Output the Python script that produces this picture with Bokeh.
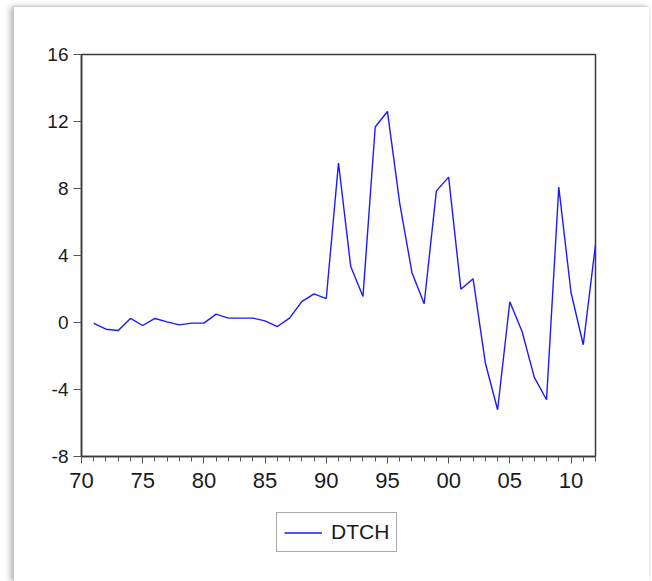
from bokeh.plotting import figure
from bokeh.layouts import column
from bokeh.models import FixedTicker, Legend, LegendItem, Range1d
from bokeh.embed import file_html
from bokeh.resources import INLINE

# ---- data ----
years = list(range(1971, 2013))
dtch = [-0.05, -0.40, -0.48, 0.24, -0.18, 0.24, 0.04, -0.14, -0.04, -0.04,
        0.50, 0.26, 0.26, 0.26, 0.10, -0.24, 0.26, 1.25, 1.71, 1.43,
        9.52, 3.34, 1.55, 11.67, 12.60, 7.13, 2.99, 1.12, 7.86, 8.68,
        1.99, 2.61, -2.42, -5.21, 1.24, -0.54, -3.28, -4.61, 8.08, 1.79,
        -1.33, 4.64]
series_name = "DTCH"
x_major = [1970, 1975, 1980, 1985, 1990, 1995, 2000, 2005, 2010]
x_labels = ["70", "75", "80", "85", "90", "95", "00", "05", "10"]
y_major = [-8, -4, 0, 4, 8, 12, 16]
y_labels = ["-8", "-4", "0", "4", "8", "12", "16"]

FONT = "Liberation Sans"
FRAME = "#3a3a3a"
LINE_COLOR = "#1a1aff"

p = figure(frame_width=514, frame_height=402, output_backend="svg",
           toolbar_location=None,
           x_range=Range1d(1970, 2012), y_range=Range1d(-8, 16),
           min_border_left=67, min_border_right=54, min_border_top=47,
           min_border_bottom=45)
p.background_fill_color = "white"
p.border_fill_color = "white"
p.outline_line_color = FRAME
p.outline_line_width = 1.5
p.xgrid.visible = False
p.ygrid.visible = False

p.line(years, dtch, line_color=LINE_COLOR, line_width=1.4)

# x axis
xa = p.xaxis[0]
xa.ticker = FixedTicker(ticks=x_major, minor_ticks=list(range(1970, 2013)))
xa.major_label_overrides = {t: l for t, l in zip(x_major, x_labels)}
xa.major_label_text_font = FONT
xa.major_label_text_font_size = "22px"
xa.major_label_text_color = "#1a1a1a"
xa.major_tick_in = 0
xa.major_tick_out = 7
xa.minor_tick_in = 0
xa.minor_tick_out = 5
xa.axis_line_color = FRAME
xa.axis_line_width = 1.5
xa.major_tick_line_color = "#555555"
xa.minor_tick_line_color = "#555555"
xa.major_label_standoff = 9

# y axis
ya = p.yaxis[0]
ya.ticker = FixedTicker(ticks=y_major)
ya.major_label_overrides = {t: l for t, l in zip(y_major, y_labels)}
ya.major_label_text_font = FONT
ya.major_label_text_font_size = "19px"
ya.major_label_text_color = "#1a1a1a"
ya.major_tick_in = 0
ya.major_tick_out = 8
ya.minor_tick_line_color = None
ya.axis_line_color = FRAME
ya.axis_line_width = 1.5
ya.major_tick_line_color = "#555555"
ya.major_label_standoff = 5

# legend strip below the chart (series drawn out of view, only its legend shows)
q = figure(width=635, height=80, output_backend="svg", toolbar_location=None,
           x_range=Range1d(0, 1), y_range=Range1d(100, 101),
           min_border=0)
q.axis.visible = False
q.grid.visible = False
q.outline_line_color = None
q.background_fill_color = "white"
q.border_fill_color = "white"
lr = q.line(years, dtch, line_color=LINE_COLOR, line_width=1.4)
legend = Legend(items=[LegendItem(label=series_name, renderers=[lr])],
                location=(195, 29), orientation="vertical",
                label_text_font=FONT, label_text_font_size="21px",
                label_text_color="#1a1a1a",
                glyph_width=38, glyph_height=19, label_height=19,
                label_standoff=9, padding=7, margin=0, spacing=0,
                border_line_color="#555555", border_line_width=1,
                background_fill_color="white", background_fill_alpha=1)
q.add_layout(legend, "center")

layout = column(p, q, spacing=0)
layout.styles = {"margin-left": "13px", "margin-top": "7px",
                 "box-shadow": "-3px 0 6px 0 rgba(0,0,0,0.25), 0 -1px 3px 0 rgba(0,0,0,0.12)",
                 "border-left": "1px solid #c8c8c8"}

open("out.html", "w").write(file_html(layout, INLINE))
